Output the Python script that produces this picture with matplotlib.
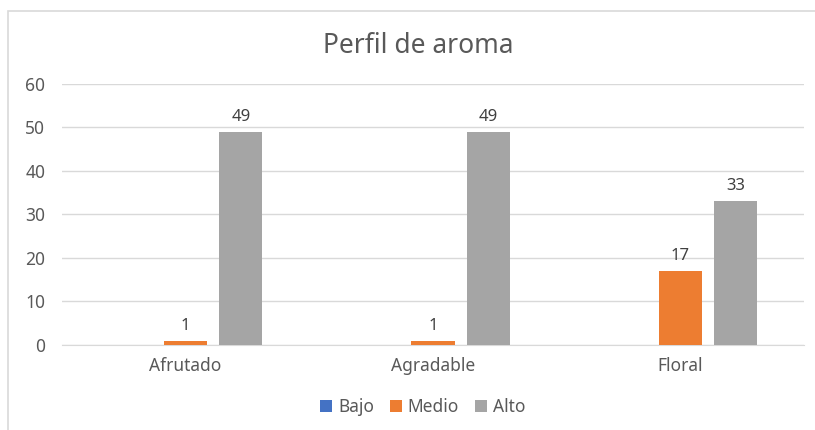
import matplotlib
matplotlib.use('Agg')

import numpy as np
import matplotlib.pyplot as plt
from matplotlib.patches import Rectangle

# Data
categorias = ["Afrutado", "Agradable", "Floral"]
bajo = [0, 0, 0]
medio = [1, 1, 17]
alto = [49, 49, 33]
series = ["Bajo", "Medio", "Alto"]
colores = ["#4472C4", "#ED7D31", "#A5A5A5"]

plt.rcParams['font.family'] = ['Noto Sans', 'DejaVu Sans']

fig = plt.figure(figsize=(8.15, 4.3), dpi=100)
ax = fig.add_axes([0.0761, 0.1977, 0.9104, 0.607])

# chart border (only top and left show in the reference)
fig.patches.append(Rectangle((8 / 815, -0.05), 1.0, 1.05 - 11 / 430,
                             transform=fig.transFigure, fill=False,
                             edgecolor="#D9D9D9", linewidth=1.2))

x = np.arange(len(categorias))
ancho = 0.174
paso = 0.223
for i, (vals, nombre, color) in enumerate(zip([bajo, medio, alto], series, colores)):
    pos = x + (i - 1) * paso
    bars = ax.bar(pos, vals, width=ancho, color=color, label=nombre, zorder=3)
    for b, v in zip(bars, vals):
        if v:
            ax.text(b.get_x() + b.get_width() / 2, v + 1.6, str(v),
                    ha="center", va="bottom", fontsize=12, color="#404040")

ax.set_xlim(-0.5, 2.5)
ax.set_ylim(0, 60)
ax.set_yticks(range(0, 61, 10))
ax.set_xticks(x)
ax.set_xticklabels(categorias)
ax.tick_params(axis="both", length=0, labelsize=12.5, colors="#595959")
ax.tick_params(axis="x", pad=9)
ax.tick_params(axis="y", pad=12)
ax.grid(axis="y", color="#D9D9D9", linewidth=1, zorder=0)
for s in ["top", "right", "left"]:
    ax.spines[s].set_visible(False)
ax.spines["bottom"].set_color("#D9D9D9")

fig.text(0.513, 0.893, "Perfil de aroma", ha="center", va="center",
         fontsize=19, color="#595959")

ax.legend(loc="center", bbox_to_anchor=(0.486, -0.238), ncol=3, frameon=False,
          fontsize=12.5, handlelength=0.7, handleheight=0.7, handletextpad=0.35,
          columnspacing=0.9, labelcolor="#595959")

plt.savefig("out.png", dpi=100)
